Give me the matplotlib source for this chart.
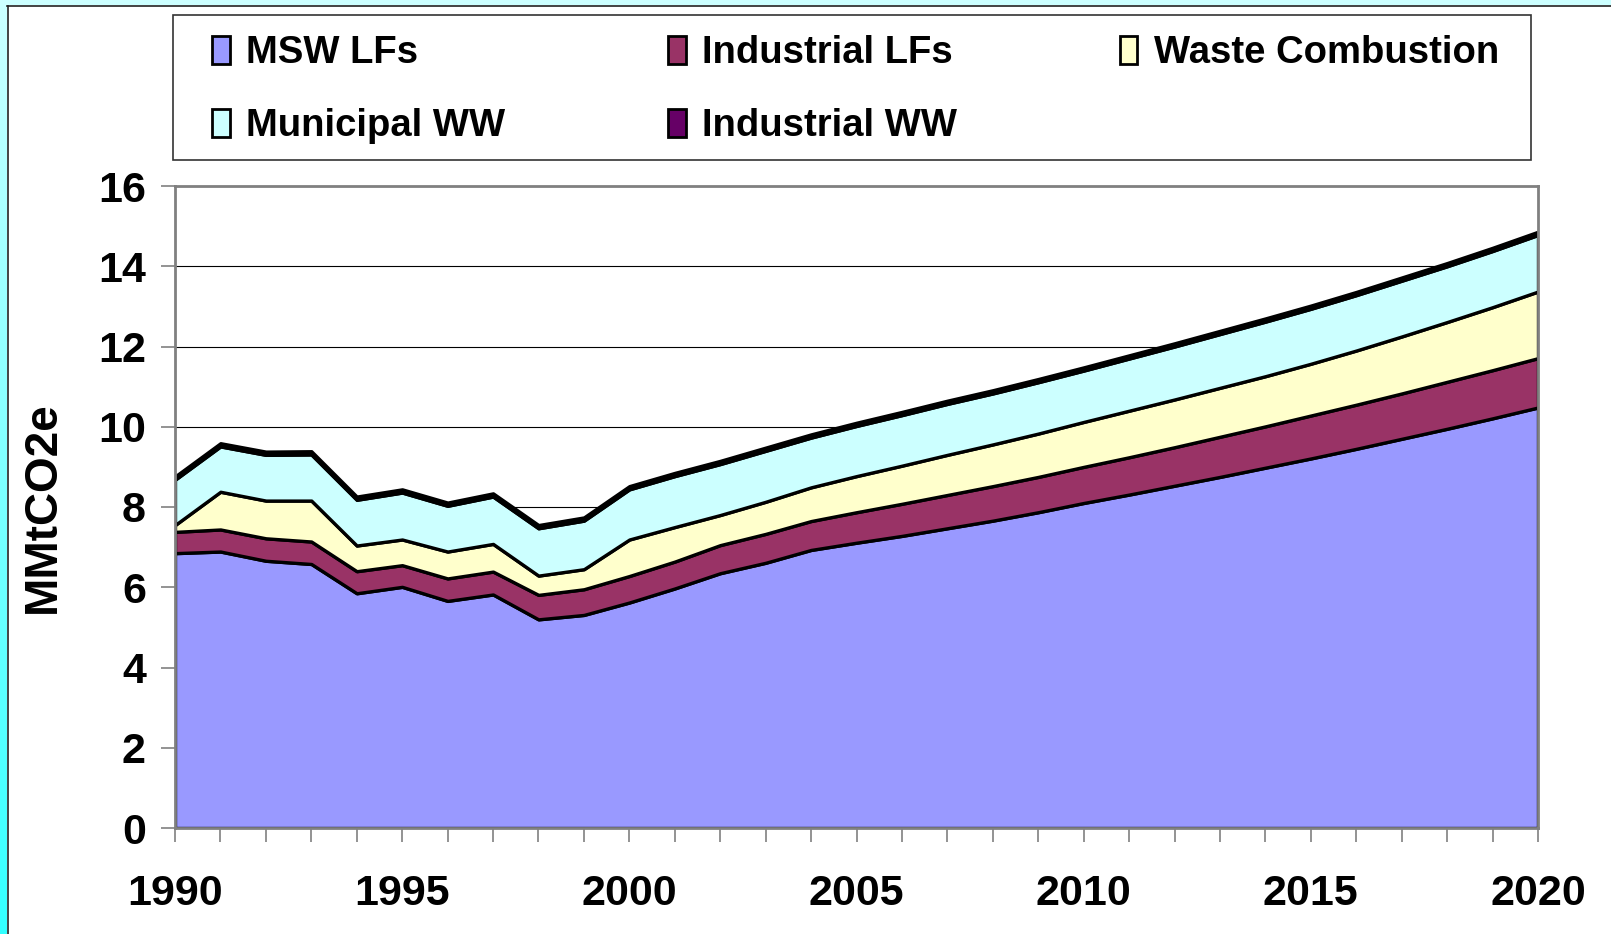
import numpy as np
import matplotlib.pyplot as plt
from matplotlib.patches import Rectangle
from matplotlib.lines import Line2D
from matplotlib.ticker import MultipleLocator

years = list(range(1990, 2021))

msw_lfs = [6.85, 6.89, 6.66, 6.58, 5.85, 6.01, 5.66, 5.82, 5.20, 5.31,
           5.62, 5.97, 6.35, 6.61, 6.93, 7.11, 7.28, 7.47, 7.66, 7.87,
           8.10, 8.31, 8.53, 8.75, 8.98, 9.21, 9.45, 9.70, 9.95, 10.21, 10.48]
industrial_lfs = [0.53, 0.55, 0.56, 0.56, 0.55, 0.54, 0.56, 0.57, 0.61, 0.64,
                  0.66, 0.67, 0.70, 0.72, 0.72, 0.76, 0.80, 0.83, 0.86, 0.88,
                  0.90, 0.93, 0.96, 1.00, 1.03, 1.07, 1.10, 1.13, 1.17, 1.20, 1.23]
waste_combustion = [0.17, 0.94, 0.94, 1.02, 0.64, 0.64, 0.67, 0.69, 0.48, 0.50,
                    0.91, 0.86, 0.75, 0.80, 0.84, 0.90, 0.95, 1.00, 1.04, 1.08,
                    1.12, 1.16, 1.19, 1.22, 1.25, 1.29, 1.35, 1.42, 1.49, 1.57, 1.66]
municipal_ww = [1.13, 1.13, 1.14, 1.15, 1.14, 1.17, 1.14, 1.18, 1.18, 1.21,
                1.25, 1.27, 1.27, 1.27, 1.24, 1.25, 1.26, 1.27, 1.27, 1.28,
                1.28, 1.30, 1.32, 1.34, 1.36, 1.37, 1.38, 1.39, 1.39, 1.40, 1.41]
industrial_ww = [0.08] * 31

labels = ["MSW LFs", "Industrial LFs", "Waste Combustion", "Municipal WW", "Industrial WW"]
colors = ["#9999FF", "#993366", "#FFFFCC", "#CCFFFF", "#660066"]

W, H = 1611, 934
fig = plt.figure(figsize=(W / 100, H / 100), dpi=100)
fig.patch.set_facecolor("white")

# cyan slide border (left gradient strip + top strip)
band = fig.add_axes([0, 0, 7 / W, 1])
grad = np.linspace(0, 1, 256).reshape(-1, 1)
band.imshow(grad, aspect="auto", cmap=plt.matplotlib.colors.LinearSegmentedColormap.from_list(
    "c", ["#CCFFFF", "#33FFFF"]), extent=[0, 1, 0, 1])
band.axis("off")
fig.patches.append(Rectangle((0, 1 - 5 / H), 1, 5 / H, transform=fig.transFigure,
                             facecolor="#CCFFFF", edgecolor="none", zorder=0))
fig.lines.append(Line2D([7.5 / W, 7.5 / W], [0, 1 - 5.5 / H], transform=fig.transFigure,
                        color="#222222", lw=1.2))
fig.lines.append(Line2D([7 / W, 1], [1 - 5.5 / H, 1 - 5.5 / H], transform=fig.transFigure,
                        color="#222222", lw=1.2))

ax = fig.add_axes([175 / W, 1 - 828 / H, (1538 - 175) / W, (828 - 186) / H])
ax.stackplot(years, msw_lfs, industrial_lfs, waste_combustion, municipal_ww, industrial_ww,
             colors=colors, edgecolor="black", linewidth=2.4, zorder=2)

ax.set_xlim(1990, 2020)
ax.set_ylim(0, 16)
ax.yaxis.set_major_locator(MultipleLocator(2))
ax.xaxis.set_major_locator(MultipleLocator(5))
ax.xaxis.set_minor_locator(MultipleLocator(1))
ax.set_axisbelow(True)
ax.grid(axis="y", color="black", lw=0.8)

for s in ax.spines.values():
    s.set_color("#808080")
    s.set_linewidth(2)

ax.tick_params(axis="y", direction="out", length=10, width=1.2, color="#808080", pad=11,
               labelsize=31)
ax.tick_params(axis="x", which="both", direction="out", length=10, width=1.2, color="#808080")
ax.tick_params(axis="x", which="major", pad=23, labelsize=31)
for lab in ax.get_xticklabels() + ax.get_yticklabels():
    lab.set_fontweight("bold")
    lab.set_family(["Liberation Sans", "DejaVu Sans"])

ax.set_ylabel("MMtCO2e", fontsize=33, fontweight="bold", family=["Liberation Sans", "DejaVu Sans"])
ax.yaxis.set_label_coords(-110 / (1538 - 175), 0.5)

# legend frame + entries (row-major order)
fig.patches.append(Rectangle((172.6 / W, 1 - 160 / H), (1531 - 172.6) / W, (160 - 15.4) / H,
                             transform=fig.transFigure, facecolor="white",
                             edgecolor="#333333", lw=1.2, zorder=1))
handles = [Rectangle((0, 0), 1, 1, facecolor=c, edgecolor="black", lw=2) for c in colors]
order = [0, 3, 1, 4, 2]
leg = fig.legend([handles[i] for i in order], [labels[i] for i in order],
                 loc="upper left", bbox_to_anchor=(212 / W, 1 - 35 / H), ncol=3,
                 frameon=False, borderpad=0, borderaxespad=0,
                 handlelength=0.47, handleheight=0.76, handletextpad=0.42,
                 columnspacing=4.26, labelspacing=0.98,
                 prop={"family": ["Liberation Sans", "DejaVu Sans"],
                       "weight": "bold", "size": 27.5})

fig.savefig("out.png", dpi=100)
